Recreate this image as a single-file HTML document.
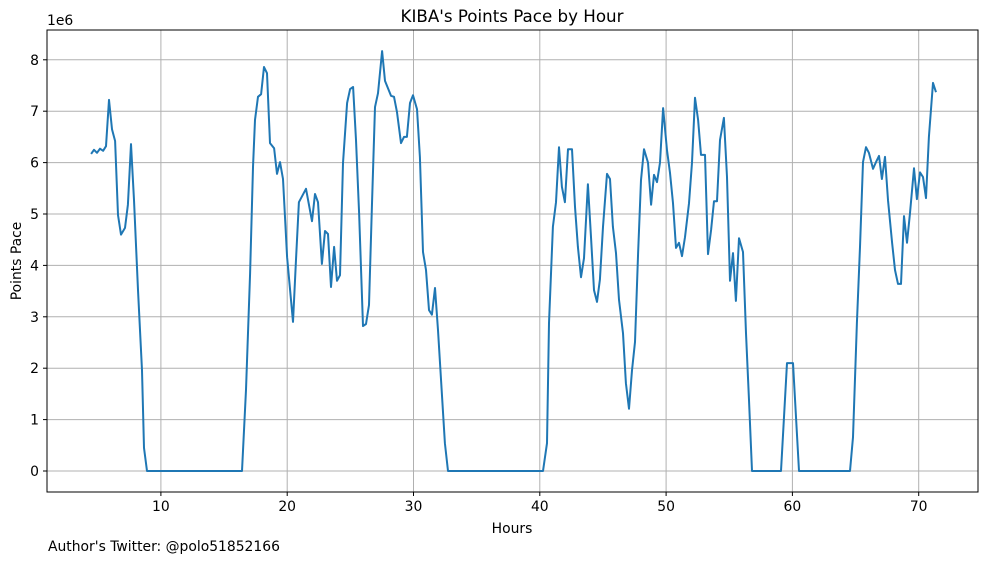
<!DOCTYPE html>
<html><head><meta charset="utf-8"><style>
html,body{margin:0;padding:0;background:#fff;}
svg text{font-family:"DejaVu Sans","Liberation Sans",sans-serif;fill:#000;}
</style></head><body>
<svg id="chart" width="988" height="562" viewBox="0 0 988 562" xmlns="http://www.w3.org/2000/svg">
<rect x="0" y="0" width="988" height="562" fill="#fff"/>
<g id="grid"></g>
<g id="ticks"></g>
<polyline id="line" fill="none" stroke="#1f77b4" stroke-width="2" stroke-linejoin="round"/>
<rect x="47" y="30" width="931" height="462" fill="none" stroke="#000" stroke-width="1"/>
<text x="512" y="22" text-anchor="middle" font-size="16.7">KIBA's Points Pace by Hour</text>
<text x="47" y="25" font-size="13.9">1e6</text>
<text x="21" y="261" text-anchor="middle" font-size="13.9" transform="rotate(-90 21 261)">Points Pace</text>
<text x="512" y="533" text-anchor="middle" font-size="13.9">Hours</text>
<text x="48" y="551" font-size="13.9">Author's Twitter: @polo51852166</text>
</svg>
<script>
const hours=[4.47,4.70,4.94,5.18,5.42,5.65,5.89,6.13,6.37,6.60,6.84,7.16,7.39,7.63,7.87,8.19,8.50,8.66,8.90,16.42,16.74,17.06,17.29,17.45,17.69,17.93,18.16,18.40,18.64,18.96,19.19,19.43,19.67,19.99,20.46,20.70,20.93,21.49,21.96,22.20,22.44,22.75,22.99,23.23,23.47,23.71,23.94,24.18,24.42,24.74,24.98,25.22,25.45,25.69,26.00,26.24,26.48,26.71,26.95,27.19,27.51,27.74,28.22,28.46,28.69,29.01,29.25,29.48,29.72,29.96,30.28,30.51,30.75,30.99,31.23,31.46,31.70,31.94,32.49,32.73,40.25,40.57,40.73,41.04,41.28,41.52,41.75,41.99,42.23,42.55,42.79,43.02,43.26,43.50,43.81,44.05,44.29,44.53,44.76,45.00,45.32,45.56,45.79,46.03,46.27,46.59,46.82,47.06,47.30,47.54,47.78,48.01,48.25,48.57,48.81,49.04,49.28,49.52,49.76,50.07,50.31,50.55,50.78,51.02,51.26,51.50,51.81,52.05,52.29,52.53,52.76,53.08,53.32,53.56,53.79,54.03,54.27,54.58,54.82,55.06,55.30,55.53,55.77,56.09,56.33,56.56,56.80,59.10,59.57,60.05,60.52,64.56,64.80,65.11,65.35,65.59,65.83,66.06,66.38,66.62,66.86,67.09,67.33,67.57,67.89,68.12,68.36,68.60,68.84,69.07,69.31,69.63,69.86,70.10,70.34,70.58,70.81,71.13,71.37];
const paceMillions=[6.17,6.25,6.19,6.27,6.23,6.32,7.22,6.65,6.42,4.98,4.60,4.73,5.18,6.36,5.27,3.52,1.96,0.45,0,0,1.58,3.85,5.91,6.83,7.28,7.33,7.86,7.74,6.38,6.28,5.78,6.01,5.68,4.16,2.90,4.11,5.23,5.49,4.86,5.39,5.23,4.03,4.67,4.61,3.58,4.36,3.70,3.81,5.99,7.16,7.43,7.47,6.44,5.02,2.82,2.86,3.23,5.14,7.08,7.35,8.17,7.59,7.30,7.28,6.98,6.38,6.50,6.50,7.16,7.31,7.04,6.11,4.26,3.91,3.13,3.04,3.56,2.74,0.54,0,0,0.54,2.88,4.75,5.23,6.30,5.53,5.23,6.26,6.26,5.14,4.36,3.77,4.14,5.58,4.55,3.52,3.29,3.72,4.75,5.78,5.68,4.75,4.24,3.33,2.68,1.71,1.21,1.96,2.51,4.24,5.66,6.26,6.00,5.18,5.76,5.62,6.00,7.06,6.24,5.80,5.21,4.34,4.44,4.18,4.55,5.21,6.00,7.26,6.83,6.15,6.15,4.22,4.69,5.25,5.25,6.44,6.87,5.72,3.70,4.24,3.31,4.53,4.26,2.68,1.38,0,0,2.10,2.10,0,0,0.66,2.88,4.36,6.01,6.30,6.19,5.88,6.01,6.13,5.68,6.11,5.27,4.44,3.91,3.64,3.64,4.96,4.44,5.02,5.89,5.29,5.81,5.72,5.31,6.50,7.55,7.37];
const xTicks=[10,20,30,40,50,60,70];
const yTicks=[0,1,2,3,4,5,6,7,8];
const L=47,R=978,T=30,B=492;
function xs(h){return 34.6+h*12.63;}
function ys(v){return 471-v*51.4;}
const NS="http://www.w3.org/2000/svg";
const grid=document.getElementById('grid'),ticks=document.getElementById('ticks');
function mk(tag,attrs,parent){const e=document.createElementNS(NS,tag);for(const k in attrs)e.setAttribute(k,attrs[k]);parent.appendChild(e);return e;}
xTicks.forEach(t=>{
  const x=xs(t);
  const g=mk('line',{x1:x,x2:x,y1:T,y2:B,stroke:'#b0b0b0','stroke-width':1},grid);
  
  
  const tk=mk('line',{x1:x,x2:x,y1:B,y2:B+4,stroke:'#000'},ticks);
  
  
  const lb=mk('text',{x:x,y:B+19,'text-anchor':'middle','font-size':13.9},ticks);
  lb.textContent=t;
  
  
});
yTicks.forEach(t=>{
  const y=ys(t);
  const g=mk('line',{x1:L,x2:R,y1:y,y2:y,stroke:'#b0b0b0','stroke-width':1},grid);
  
  
  const tk=mk('line',{x1:L-4,x2:L,y1:y,y2:y,stroke:'#000'},ticks);
  
  
  const lb=mk('text',{x:L-8,y:y+5,'text-anchor':'end','font-size':13.9},ticks);
  lb.textContent=t;
  
  
});
document.getElementById('line').setAttribute('points',hours.map((h,i)=>xs(h).toFixed(1)+','+ys(paceMillions[i]).toFixed(1)).join(' '));
</script>
</body></html>
